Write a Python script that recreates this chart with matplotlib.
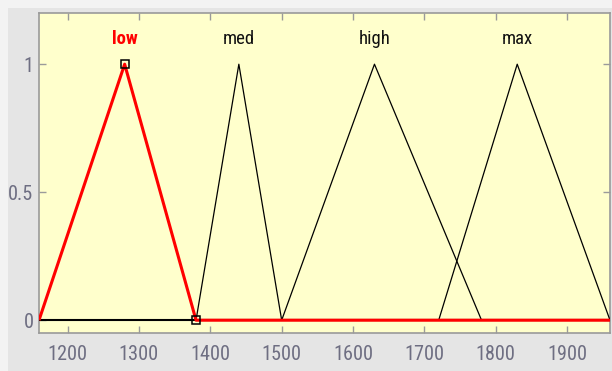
import matplotlib
matplotlib.use("Agg")
import matplotlib.pyplot as plt
from matplotlib import font_manager
from matplotlib.patches import Rectangle

# Membership functions (triangular: left foot, peak, right foot)
mf_names = ["low", "med", "high", "max"]
mf_left = [1160, 1380, 1500, 1720]
mf_peak = [1280, 1440, 1630, 1830]
mf_right = [1380, 1500, 1780, 1960]
selected = 0  # index of the highlighted function

x_range = [1160, 1960]
x_ticks = [1200, 1300, 1400, 1500, 1600, 1700, 1800, 1900]
y_ticks = [0, 0.5, 1]
y_tick_labels = ["0", "0.5", "1"]

TICK_COLOR = "#6E6E82"
SPINE_COLOR = "#9A9A9A"


def pick_narrow_font():
    """Return (family, stretch, size) for a narrow sans face if one is installed."""
    fonts = font_manager.fontManager.ttflist
    names = {f.name for f in fonts}
    for fam, size in [("Liberation Sans Narrow", 13.5), ("Arial Narrow", 13.5),
                      ("Roboto Condensed", 13.5), ("Open Sans Condensed", 13)]:
        if fam in names:
            return fam, "normal", size
    for f in fonts:
        if f.name == "DejaVu Sans" and "ondensed" in f.fname:
            return "DejaVu Sans", "condensed", 12
    return "Liberation Sans", "normal", 11.5


FAM, STRETCH, FS = pick_narrow_font()


def fp(weight="normal", scale=1.0):
    return font_manager.FontProperties(family=FAM, stretch=STRETCH, size=FS * scale,
                                       weight=weight)


fig = plt.figure(figsize=(6.12, 3.71), dpi=100, facecolor="#F3F3F3")
# grey panel behind the axes
fig.patches.append(Rectangle((8 / 612, 0), 1, 1 - 8 / 371, transform=fig.transFigure,
                             facecolor="#E5E5E5", edgecolor="none", zorder=-5))

ax = fig.add_axes([39 / 612, 1 - 333 / 371, (610 - 39) / 612, (333 - 13) / 371])
ax.set_zorder(2)
ax.set_facecolor("#FFFFCC")
ax.set_xlim(x_range)
ax.set_ylim(-0.05, 1.2)

# baseline
ax.plot(x_range, [0, 0], color="black", lw=1.5, zorder=2, solid_capstyle="butt")

for i, name in enumerate(mf_names):
    if i == selected:
        continue
    xs = [x_range[0], mf_left[i], mf_peak[i], mf_right[i], x_range[1]]
    ys = [0, 0, 1, 0, 0]
    ax.plot(xs, ys, color="black", lw=0.9, zorder=3)
    ax.text(mf_peak[i], 1.1, name, ha="center", va="center", color="#111111",
            fontproperties=fp())

# highlighted function on top
i = selected
xs = [x_range[0], mf_left[i], mf_peak[i], mf_right[i], x_range[1]]
ys = [0, 0, 1, 0, 0]
ax.plot(xs, ys, color="red", lw=2.2, zorder=4, solid_capstyle="butt")
ax.text(mf_peak[i], 1.1, mf_names[i], ha="center", va="center", color="red",
        fontproperties=fp("bold"))
ax.plot([mf_peak[i], mf_right[i]], [1, 0], linestyle="none", marker="s",
        markersize=6, markerfacecolor="none", markeredgecolor="black",
        markeredgewidth=1.1, zorder=5, clip_on=False)

ax.set_xticks(x_ticks)
ax.set_xticklabels([str(t) for t in x_ticks])
ax.set_yticks(y_ticks)
ax.set_yticklabels(y_tick_labels)
ax.tick_params(direction="in", length=5, width=1, color=SPINE_COLOR,
               labelcolor=TICK_COLOR, top=True, right=True)
ax.tick_params(axis="x", pad=9)
ax.tick_params(axis="y", pad=4)
for lab in ax.get_xticklabels() + ax.get_yticklabels():
    lab.set_fontproperties(fp(scale=1.08))
for s in ax.spines.values():
    s.set_color(SPINE_COLOR)
    s.set_linewidth(1.2)

fig.savefig("out.png", dpi=100, facecolor=fig.get_facecolor())
